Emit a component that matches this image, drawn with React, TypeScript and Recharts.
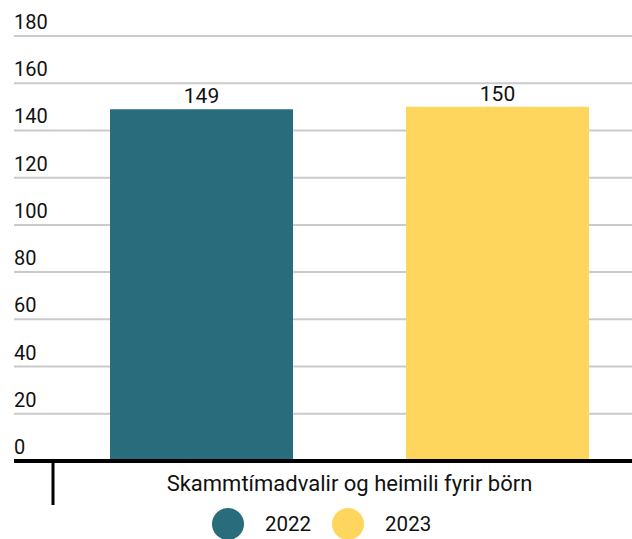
import { Bar, BarChart, CartesianGrid, LabelList, XAxis, YAxis } from "recharts";

const categories = ["Skammtímadvalir og heimili fyrir börn"];
const values2022 = [149];
const values2023 = [150];
const yTicks = [0, 20, 40, 60, 80, 100, 120, 140, 160, 180];
const seriesNames = ["2022", "2023"];
const seriesColors = ["#296c7c", "#fed65d"];

const data = categories.map((name, i) => ({
  name,
  y2022: values2022[i],
  y2023: values2023[i],
}));

const FONT = "Roboto, 'Noto Sans', sans-serif";

// y tick labels sit above their gridline, left aligned
const YTick = (props: any) => {
  const { y, payload } = props;
  return (
    <text x={14} y={y - 7} textAnchor="start" fontSize={20} fill="#111" fontFamily={FONT}>
      {payload.value}
    </text>
  );
};

const XTick = (props: any) => {
  const { x, y, payload } = props;
  return (
    <g>
      <line x1={53} x2={53} y1={y - 8} y2={y + 36} stroke="#000" strokeWidth={3} />
      <text x={x} y={y + 22} textAnchor="middle" fontSize={22} fill="#111" fontFamily={FONT}>
        {payload.value}
      </text>
    </g>
  );
};

export default function App() {
  return (
    <div style={{ position: "absolute", left: 0, top: 0, width: 632, height: 539, overflow: "hidden", fontFamily: FONT }}>
      <BarChart
        width={700}
        height={539}
        data={data}
        margin={{ top: 36, right: 15, bottom: 33, left: 0 }}
        barSize={183}
        barGap={113}
      >
        <CartesianGrid vertical={false} stroke="#cacaca" strokeWidth={2} />
        <YAxis
          width={14}
          domain={[0, 180]}
          ticks={yTicks}
          axisLine={false}
          tickLine={false}
          tick={<YTick />}
          interval={0}
        />
        <XAxis
          dataKey="name"
          height={45}
          axisLine={{ stroke: "#000", strokeWidth: 4 }}
          tickLine={false}
          tick={<XTick />}
        />
        <Bar dataKey="y2022" name={seriesNames[0]} fill={seriesColors[0]} isAnimationActive={false}>
          <LabelList dataKey="y2022" position="top" offset={6} fontSize={21} fill="#111" fontFamily={FONT} />
        </Bar>
        <Bar dataKey="y2023" name={seriesNames[1]} fill={seriesColors[1]} isAnimationActive={false}>
          <LabelList dataKey="y2023" position="top" offset={6} fontSize={21} fill="#111" fontFamily={FONT} />
        </Bar>
      </BarChart>
      <div style={{ position: "absolute", left: 212, top: 508, display: "flex", alignItems: "center", fontSize: 20.5, color: "#111" }}>
        {seriesNames.map((n, i) => (
          <div key={n} style={{ display: "flex", alignItems: "center", marginRight: 21 }}>
            <span style={{ width: 32, height: 32, borderRadius: 16, background: seriesColors[i], display: "inline-block", flexShrink: 0, marginRight: 21 }} />
            <span>{n}</span>
          </div>
        ))}
      </div>
    </div>
  );
}
